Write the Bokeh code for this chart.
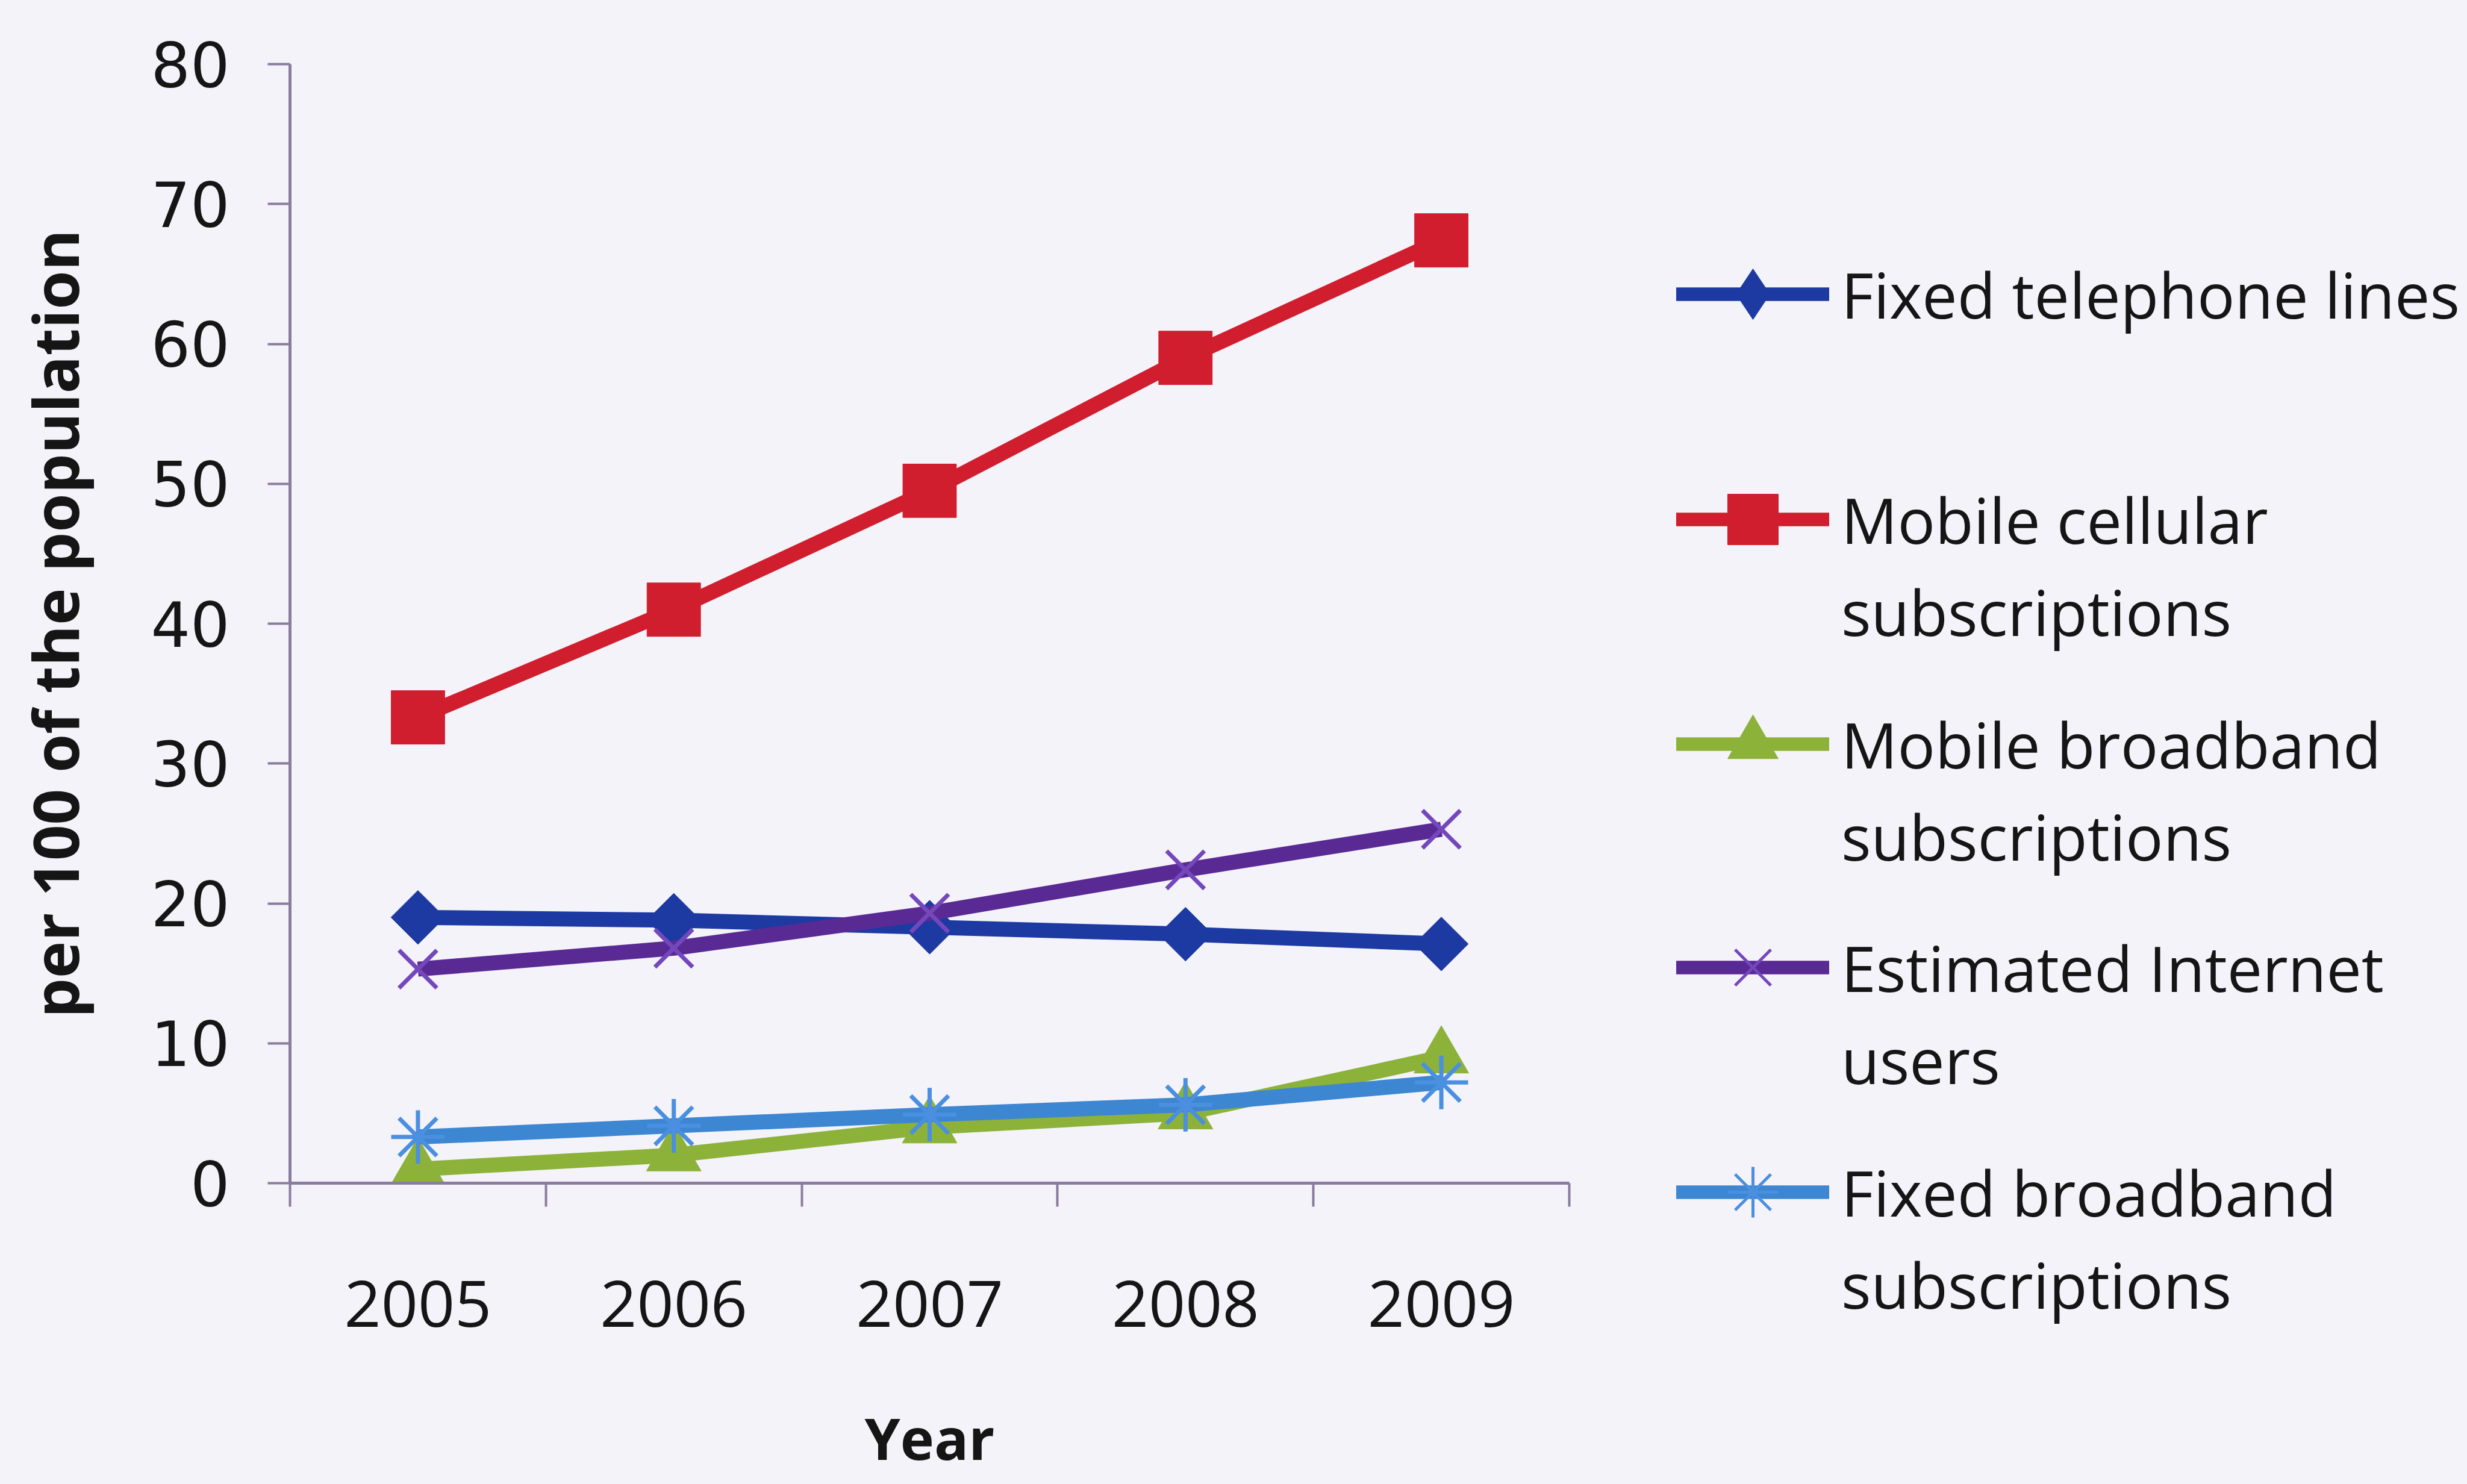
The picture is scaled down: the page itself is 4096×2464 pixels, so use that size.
import math
from bokeh.plotting import figure
from bokeh.layouts import row
from bokeh.models import Range1d, FixedTicker, Legend, LegendItem
from bokeh.embed import file_html
from bokeh.resources import INLINE

# ---- data ----
years = [2005, 2006, 2007, 2008, 2009]
fixed_telephone = [19.0, 18.8, 18.3, 17.8, 17.1]
mobile_cellular = [33.3, 41.0, 49.5, 59.0, 67.4]
mobile_broadband = [1.0, 2.0, 4.0, 5.0, 9.0]
internet_users = [15.3, 16.8, 19.3, 22.4, 25.3]
fixed_broadband = [3.3, 4.1, 4.9, 5.6, 7.2]
legend_line1 = ["Fixed telephone lines", "Mobile cellular", "Mobile broadband",
                "Estimated Internet", "Fixed broadband"]
legend_line2 = ["", "subscriptions", "subscriptions", "users", "subscriptions"]
y_ticks = [0, 10, 20, 30, 40, 50, 60, 70, 80]
x_label = "Year"
y_label = "per 100 of the population"

S = 0.987
W, H = 4096, 2464
W1 = 2650
FRAME_LEFT, FRAME_RIGHT, FRAME_TOP, FRAME_BOTTOM = 481, 2605, 106, 1964
BG = "#f4f3fa"
AXC = "#8a7c9e"
TXT = "#151515"
LW = 25

p = figure(width=W1, height=H, output_backend="svg", toolbar_location=None,
           x_range=Range1d(2004.5, 2009.5), y_range=Range1d(0, 80),
           min_border_left=FRAME_LEFT, min_border_right=W1 - FRAME_RIGHT,
           min_border_top=FRAME_TOP, min_border_bottom=H - FRAME_BOTTOM,
           background_fill_color=BG, border_fill_color=BG)
p.outline_line_color = None
p.grid.visible = False

xa = p.xaxis[0]
xa.ticker = FixedTicker(ticks=years, minor_ticks=[y - 0.5 for y in years] + [years[-1] + 0.5])
xa.major_label_overrides = {y: str(y) for y in years}
xa.major_tick_out = 0
xa.major_tick_in = 0
xa.minor_tick_out = int(40 * S)
xa.minor_tick_in = 0
xa.minor_tick_line_color = AXC
xa.minor_tick_line_width = 4
xa.axis_line_color = AXC
xa.axis_line_width = 5
xa.major_label_text_font = "Open Sans"
xa.major_label_text_font_size = f"{108*S:.0f}px"
xa.major_label_text_color = TXT
xa.major_label_standoff = 123
xa.axis_label = x_label
xa.axis_label_text_font = "Open Sans"
xa.axis_label_text_font_style = "bold"
xa.axis_label_text_font_size = f"{96*S:.0f}px"
xa.axis_label_text_color = TXT
xa.axis_label_standoff = 116

ya = p.yaxis[0]
ya.ticker = FixedTicker(ticks=y_ticks, minor_ticks=[])
ya.major_tick_out = int(38 * S)
ya.major_tick_in = 0
ya.major_tick_line_color = AXC
ya.major_tick_line_width = 4
ya.axis_line_color = AXC
ya.axis_line_width = 5
ya.major_label_text_font = "DejaVu Sans"
ya.major_label_text_font_size = f"{104*S:.0f}px"
ya.major_label_text_color = TXT
ya.major_label_standoff = 63
ya.axis_label = y_label
ya.axis_label_text_font = "Open Sans"
ya.axis_label_text_font_style = "bold"
ya.axis_label_text_font_size = f"{105*S:.0f}px"
ya.axis_label_text_color = TXT
ya.axis_label_standoff = 86

# (values, line colour, marker colour, plot marker, size, angle, marker line width, legend marker)
series = [
    (fixed_telephone, "#1d3aa3", "#1d3aa3", "square", 64, math.pi / 4, 1, "diamond"),
    (mobile_cellular, "#d01e2e", "#d01e2e", "square", 90, 0, 1, "square"),
    (mobile_broadband, "#8cb23a", "#8cb23a", "triangle", 92, 0, 1, "triangle"),
    (internet_users, "#5a2a94", "#7447bd", "x", 90, 0, 7, "x"),
    (fixed_broadband, "#3c86d2", "#4a8fe0", "asterisk", 90, 0, 7, "asterisk"),
]
for vals, lc, mc, marker, size, ang, mlw, _ in series:
    p.line(years, vals, line_color=lc, line_width=LW, line_join="round")
    p.scatter(years, vals, marker=marker, size=size * S, angle=ang,
              fill_color=mc, line_color=mc, line_width=mlw)

# ---- legend panel ----
p2 = figure(width=W - W1, height=H, output_backend="svg", toolbar_location=None,
            x_range=Range1d(0, 1), y_range=Range1d(0, 1),
            x_axis_type=None, y_axis_type=None, min_border=0,
            background_fill_color=BG, border_fill_color=BG)
p2.outline_line_color = None
p2.grid.visible = False
frame2_bottom = FRAME_BOTTOM
if "frame_align" in p2.properties():
    p2.frame_align = False
    frame2_bottom = H

GH = 210
first_centers = [488, 862, 1235, 1606, 1979]
line_pitch = 153
vx = 2783 - W1


def make_legend(label, renderers, center):
    return Legend(items=[LegendItem(label=label, renderers=renderers)],
                  location=(vx, frame2_bottom - center - GH // 2),
                  glyph_width=254, glyph_height=GH, label_standoff=20,
                  padding=0, margin=0, spacing=0,
                  border_line_alpha=0, background_fill_alpha=0,
                  label_text_font="Open Sans", label_text_font_size="104px",
                  label_text_color=TXT)


# legend key renderers hold the series data but lie outside this panel's ranges
blank = p2.line(years, fixed_telephone, line_alpha=0)
for (vals, lc, mc, marker, size, ang, mlw, lmarker), l1, l2, c in zip(
        series, legend_line1, legend_line2, first_centers):
    r1 = p2.line(years, vals, line_color=lc, line_width=LW * 0.9, line_cap="round")
    r2 = p2.scatter(years, vals, marker=lmarker, fill_color=mc, line_color=mc,
                    line_width=max(1, mlw - 2))
    p2.add_layout(make_legend(l1, [r1, r2], c), "center")
    if l2:
        p2.add_layout(make_legend(l2, [blank], c + line_pitch), "center")

layout = row(p, p2, spacing=0, styles={"background-color": BG})
html = file_html(layout, INLINE)
html = html.replace("<body>", f'<body style="background-color:{BG}">', 1)
open("out.html", "w").write(html)
